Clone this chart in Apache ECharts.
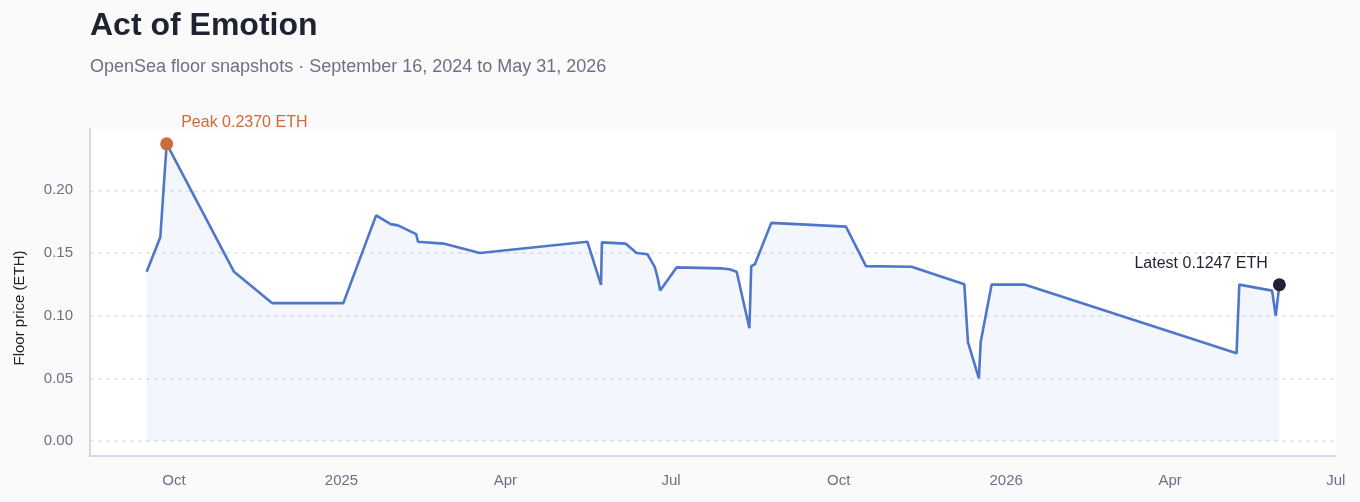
<!DOCTYPE html>
<html>
<head>
<meta charset="utf-8">
<script src="https://cdn.jsdelivr.net/npm/echarts@6/dist/echarts.min.js"></script>
<style>
html,body{margin:0;padding:0;background:#fafafa;}
#chart{width:1360px;height:502px;}
</style>
</head>
<body>
<div id="chart"></div>
<script>
const titleText = 'Act of Emotion';
const subtitleText = 'OpenSea floor snapshots · September 16, 2024 to May 31, 2026';
const yAxisName = 'Floor price (ETH)';
const monthNames = ['Jan','Feb','Mar','Apr','May','Jun','Jul','Aug','Sep','Oct','Nov','Dec'];
const labelledMonths = [0, 3, 6, 9];

const dates = [
  '2024-09-16', '2024-09-23 12:00', '2024-09-27', '2024-11-03', '2024-11-24',
  '2025-01-02', '2025-01-20', '2025-01-28', '2025-02-01', '2025-02-11',
  '2025-02-12', '2025-02-26', '2025-03-18', '2025-05-16', '2025-05-23 12:00',
  '2025-05-24', '2025-06-06', '2025-06-12', '2025-06-18', '2025-06-22',
  '2025-06-23 12:00', '2025-06-25', '2025-07-04', '2025-07-29', '2025-08-02',
  '2025-08-06', '2025-08-13', '2025-08-14', '2025-08-16', '2025-08-25',
  '2025-10-05', '2025-10-16', '2025-11-10', '2025-12-09', '2025-12-11',
  '2025-12-17', '2025-12-18', '2025-12-24', '2026-01-11', '2026-05-07 12:00',
  '2026-05-09', '2026-05-27', '2026-05-29', '2026-05-31'
];
const floorPrices = [
  0.135, 0.1625, 0.237, 0.135, 0.110,
  0.110, 0.180, 0.173, 0.172, 0.165,
  0.159, 0.1575, 0.150, 0.159, 0.1245,
  0.1585, 0.1575, 0.150, 0.149, 0.139,
  0.131, 0.120, 0.1385, 0.1377, 0.137,
  0.135, 0.090, 0.1395, 0.141, 0.174,
  0.171, 0.1395, 0.139, 0.125, 0.079,
  0.050, 0.079, 0.1248, 0.1248, 0.070,
  0.1248, 0.120, 0.100, 0.1247
];

const seriesData = dates.map((d, i) => [d, floorPrices[i]]);
let peakIdx = 0;
floorPrices.forEach((v, i) => { if (v > floorPrices[peakIdx]) peakIdx = i; });
const lastIdx = floorPrices.length - 1;
const peakVal = floorPrices[peakIdx];

const FONT = '"Liberation Sans", Arial, Helvetica, sans-serif';
const chart = echarts.init(document.getElementById('chart'), null, {renderer: 'canvas'});

chart.setOption({
  backgroundColor: '#fafafa',
  animation: false,
  textStyle: {fontFamily: FONT},
  title: [
    {text: titleText, left: 90, top: 10, padding: 0,
     textStyle: {fontSize: 32, fontWeight: 'bold', color: '#1f2230', fontFamily: FONT}},
    {text: subtitleText, left: 90, top: 58, padding: 0,
     textStyle: {fontSize: 18, fontWeight: 'normal', color: '#6b7086', fontFamily: FONT}}
  ],
  graphic: [
    {type: 'text', x: 20, y: 308, rotation: Math.PI / 2,
     style: {text: yAxisName, fill: '#222222', font: '15px ' + FONT, align: 'center', verticalAlign: 'middle'}}
  ],
  grid: {left: 90, right: 24, top: 129, bottom: 46, show: true, backgroundColor: '#ffffff', borderWidth: 0},
  xAxis: {
    type: 'time',
    min: v => v.min - 0.05 * (v.max - v.min),
    max: v => v.max + 0.05 * (v.max - v.min),
    splitNumber: 22,
    axisLine: {show: true, onZero: false, lineStyle: {color: '#d5d8ea', width: 2}},
    axisTick: {show: false},
    splitLine: {show: false},
    axisLabel: {
      color: '#6b7086', fontSize: 15, margin: 17, fontFamily: FONT,
      hideOverlap: false,
      formatter: function (val) {
        const d = new Date(val);
        if (d.getDate() !== 1 || d.getHours() !== 0 || d.getMinutes() !== 0) return '';
        if (labelledMonths.indexOf(d.getMonth()) < 0) return '';
        return d.getMonth() === 0 ? String(d.getFullYear()) : monthNames[d.getMonth()];
      }
    }
  },
  yAxis: {
    type: 'value',
    min: -0.05 * peakVal,
    max: 1.05 * peakVal,
    axisLine: {show: true, lineStyle: {color: '#d5d8ea', width: 2}},
    axisTick: {show: false},
    splitLine: {show: true, showMinLine: false, showMaxLine: false,
      lineStyle: {color: '#e3e6ee', width: 1.5, type: [4, 4]}},
    axisLabel: {
      color: '#6b7086', fontSize: 15, margin: 17, fontFamily: FONT,
      showMinLabel: false, showMaxLabel: false,
      formatter: v => v.toFixed(2)
    }
  },
  series: [
    {
      type: 'line',
      data: seriesData,
      symbol: 'none',
      smooth: false,
      lineStyle: {color: '#4f77c9', width: 2.6},
      areaStyle: {color: 'rgba(90,130,230,0.10)', origin: 0},
      z: 2
    },
    {
      type: 'scatter',
      symbolSize: 13,
      z: 5,
      itemStyle: {opacity: 1},
      data: [
        {
          value: [dates[peakIdx], floorPrices[peakIdx]],
          itemStyle: {color: '#cc6b3f', opacity: 1},
          label: {show: true, position: [21, -15], align: 'left', verticalAlign: 'middle',
            color: '#d0693b', fontSize: 16, fontFamily: FONT,
            formatter: 'Peak ' + floorPrices[peakIdx].toFixed(4) + ' ETH'}
        },
        {
          value: [dates[lastIdx], floorPrices[lastIdx]],
          itemStyle: {color: '#1f2230', opacity: 1},
          label: {show: true, position: [-5, -15], align: 'right', verticalAlign: 'middle',
            color: '#1f2230', fontSize: 16, fontFamily: FONT,
            formatter: 'Latest ' + floorPrices[lastIdx].toFixed(4) + ' ETH'}
        }
      ]
    }
  ]
});
</script>
</body>
</html>
